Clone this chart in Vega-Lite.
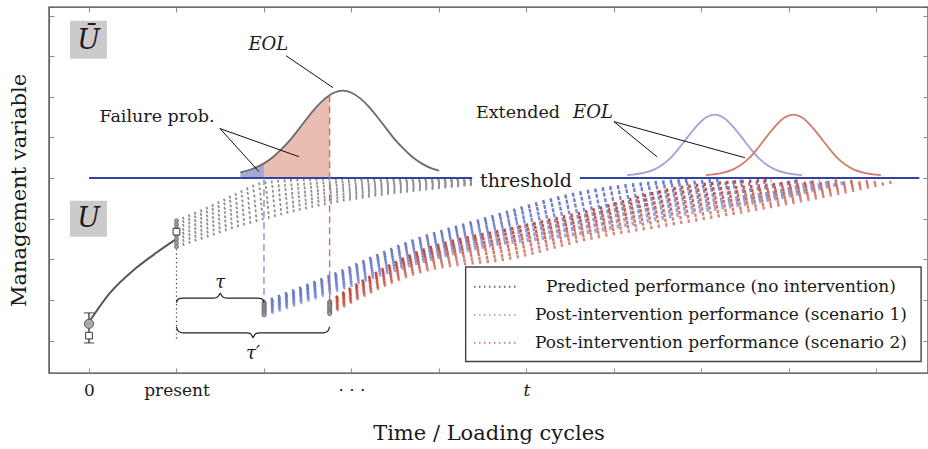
{
  "$schema": "https://vega.github.io/schema/vega-lite/v6.json",
  "width": 879,
  "height": 366,
  "autosize": {"type": "none"},
  "padding": {"left": 49, "top": 7, "right": 0, "bottom": 76},
  "background": "white",
  "config": {
    "view": {"stroke": "#3c3c3c", "strokeWidth": 1.4},
    "font": "DejaVu Serif",
    "axis": {"labelFont": "DejaVu Serif", "titleFont": "DejaVu Serif", "titleFontWeight": "normal", "grid": false, "domain": false}
  },
  "datasets": {
    "boxes": [
      {"id": "Ubar", "x": -0.217, "x2": 0.206, "y": 7.874, "y2": 6.938},
      {"id": "U", "x": -0.217, "x2": 0.206, "y": 3.441, "y2": 2.554}
    ],
    "pdf": [
      {"c": "eol", "x": 1.73, "y": 4.14}, {"c": "eol", "x": 1.85, "y": 4.21}, {"c": "eol", "x": 2.0, "y": 4.36},
      {"c": "eol", "x": 2.1, "y": 4.51}, {"c": "eol", "x": 2.2, "y": 4.71}, {"c": "eol", "x": 2.3, "y": 4.94},
      {"c": "eol", "x": 2.4, "y": 5.21}, {"c": "eol", "x": 2.5, "y": 5.49}, {"c": "eol", "x": 2.6, "y": 5.75},
      {"c": "eol", "x": 2.7, "y": 5.96}, {"c": "eol", "x": 2.75, "y": 6.04}, {"c": "eol", "x": 2.8, "y": 6.1},
      {"c": "eol", "x": 2.9, "y": 6.15}, {"c": "eol", "x": 3.0, "y": 6.1}, {"c": "eol", "x": 3.1, "y": 5.96},
      {"c": "eol", "x": 3.2, "y": 5.75}, {"c": "eol", "x": 3.3, "y": 5.49}, {"c": "eol", "x": 3.4, "y": 5.21},
      {"c": "eol", "x": 3.5, "y": 4.94}, {"c": "eol", "x": 3.6, "y": 4.71}, {"c": "eol", "x": 3.7, "y": 4.51},
      {"c": "eol", "x": 3.8, "y": 4.36}, {"c": "eol", "x": 3.9, "y": 4.25}, {"c": "eol", "x": 4.0, "y": 4.18},
      {"c": "ext1", "x": 6.15, "y": 4.07}, {"c": "ext1", "x": 6.35, "y": 4.13}, {"c": "ext1", "x": 6.45, "y": 4.2},
      {"c": "ext1", "x": 6.55, "y": 4.32}, {"c": "ext1", "x": 6.65, "y": 4.5}, {"c": "ext1", "x": 6.75, "y": 4.75},
      {"c": "ext1", "x": 6.85, "y": 5.03}, {"c": "ext1", "x": 6.95, "y": 5.29}, {"c": "ext1", "x": 7.05, "y": 5.49},
      {"c": "ext1", "x": 7.15, "y": 5.56}, {"c": "ext1", "x": 7.25, "y": 5.49}, {"c": "ext1", "x": 7.35, "y": 5.29},
      {"c": "ext1", "x": 7.45, "y": 5.03}, {"c": "ext1", "x": 7.55, "y": 4.75}, {"c": "ext1", "x": 7.65, "y": 4.5},
      {"c": "ext1", "x": 7.75, "y": 4.32}, {"c": "ext1", "x": 7.85, "y": 4.2}, {"c": "ext1", "x": 7.95, "y": 4.13},
      {"c": "ext1", "x": 8.15, "y": 4.07},
      {"c": "ext2", "x": 7.05, "y": 4.07}, {"c": "ext2", "x": 7.25, "y": 4.13}, {"c": "ext2", "x": 7.35, "y": 4.2},
      {"c": "ext2", "x": 7.45, "y": 4.32}, {"c": "ext2", "x": 7.55, "y": 4.5}, {"c": "ext2", "x": 7.65, "y": 4.75},
      {"c": "ext2", "x": 7.75, "y": 5.03}, {"c": "ext2", "x": 7.85, "y": 5.29}, {"c": "ext2", "x": 7.95, "y": 5.49},
      {"c": "ext2", "x": 8.05, "y": 5.56}, {"c": "ext2", "x": 8.15, "y": 5.49}, {"c": "ext2", "x": 8.25, "y": 5.29},
      {"c": "ext2", "x": 8.35, "y": 5.03}, {"c": "ext2", "x": 8.45, "y": 4.75}, {"c": "ext2", "x": 8.55, "y": 4.5},
      {"c": "ext2", "x": 8.65, "y": 4.32}, {"c": "ext2", "x": 8.75, "y": 4.2}, {"c": "ext2", "x": 8.85, "y": 4.13},
      {"c": "ext2", "x": 9.05, "y": 4.07}
    ],
    "bands": [
      {"s": "g", "m": 0, "x": 1.0, "y": 2.95}, {"s": "g", "m": 0, "x": 1.33, "y": 3.24}, {"s": "g", "m": 0, "x": 1.67, "y": 3.59}, {"s": "g", "m": 0, "x": 2.0, "y": 3.88}, {"s": "g", "m": 0, "x": 2.53, "y": 3.96}, {"s": "g", "m": 0, "x": 3.1, "y": 3.98}, {"s": "g", "m": 0, "x": 3.78, "y": 3.98}, {"s": "g", "m": 0, "x": 4.38, "y": 3.98},
      {"s": "g", "m": 1, "x": 1.0, "y": 2.86}, {"s": "g", "m": 1, "x": 1.33, "y": 3.15}, {"s": "g", "m": 1, "x": 1.67, "y": 3.48}, {"s": "g", "m": 1, "x": 2.0, "y": 3.76}, {"s": "g", "m": 1, "x": 2.53, "y": 3.86}, {"s": "g", "m": 1, "x": 3.1, "y": 3.92}, {"s": "g", "m": 1, "x": 3.78, "y": 3.94}, {"s": "g", "m": 1, "x": 4.38, "y": 3.96},
      {"s": "g", "m": 2, "x": 1.0, "y": 2.77}, {"s": "g", "m": 2, "x": 1.33, "y": 3.05}, {"s": "g", "m": 2, "x": 1.67, "y": 3.36}, {"s": "g", "m": 2, "x": 2.0, "y": 3.63}, {"s": "g", "m": 2, "x": 2.53, "y": 3.77}, {"s": "g", "m": 2, "x": 3.1, "y": 3.85}, {"s": "g", "m": 2, "x": 3.78, "y": 3.91}, {"s": "g", "m": 2, "x": 4.38, "y": 3.94},
      {"s": "g", "m": 3, "x": 1.0, "y": 2.67}, {"s": "g", "m": 3, "x": 1.33, "y": 2.95}, {"s": "g", "m": 3, "x": 1.67, "y": 3.25}, {"s": "g", "m": 3, "x": 2.0, "y": 3.5}, {"s": "g", "m": 3, "x": 2.53, "y": 3.67}, {"s": "g", "m": 3, "x": 3.1, "y": 3.78}, {"s": "g", "m": 3, "x": 3.78, "y": 3.87}, {"s": "g", "m": 3, "x": 4.38, "y": 3.92},
      {"s": "g", "m": 4, "x": 1.0, "y": 2.58}, {"s": "g", "m": 4, "x": 1.33, "y": 2.85}, {"s": "g", "m": 4, "x": 1.67, "y": 3.14}, {"s": "g", "m": 4, "x": 2.0, "y": 3.38}, {"s": "g", "m": 4, "x": 2.53, "y": 3.58}, {"s": "g", "m": 4, "x": 3.1, "y": 3.72}, {"s": "g", "m": 4, "x": 3.78, "y": 3.83}, {"s": "g", "m": 4, "x": 4.38, "y": 3.9},
      {"s": "g", "m": 5, "x": 1.0, "y": 2.49}, {"s": "g", "m": 5, "x": 1.33, "y": 2.75}, {"s": "g", "m": 5, "x": 1.67, "y": 3.03}, {"s": "g", "m": 5, "x": 2.0, "y": 3.25}, {"s": "g", "m": 5, "x": 2.53, "y": 3.48}, {"s": "g", "m": 5, "x": 3.1, "y": 3.65}, {"s": "g", "m": 5, "x": 3.78, "y": 3.79}, {"s": "g", "m": 5, "x": 4.38, "y": 3.88},
      {"s": "g", "m": 6, "x": 1.0, "y": 2.4}, {"s": "g", "m": 6, "x": 1.33, "y": 2.65}, {"s": "g", "m": 6, "x": 1.67, "y": 2.91}, {"s": "g", "m": 6, "x": 2.0, "y": 3.12}, {"s": "g", "m": 6, "x": 2.53, "y": 3.39}, {"s": "g", "m": 6, "x": 3.1, "y": 3.58}, {"s": "g", "m": 6, "x": 3.78, "y": 3.75}, {"s": "g", "m": 6, "x": 4.38, "y": 3.86},
      {"s": "g", "m": 7, "x": 1.0, "y": 2.31}, {"s": "g", "m": 7, "x": 1.33, "y": 2.55}, {"s": "g", "m": 7, "x": 1.67, "y": 2.8}, {"s": "g", "m": 7, "x": 2.0, "y": 3.0}, {"s": "g", "m": 7, "x": 2.53, "y": 3.29}, {"s": "g", "m": 7, "x": 3.1, "y": 3.52}, {"s": "g", "m": 7, "x": 3.78, "y": 3.71}, {"s": "g", "m": 7, "x": 4.38, "y": 3.84},
      {"s": "b", "m": 0, "x": 2.0, "y": 0.93}, {"s": "b", "m": 0, "x": 2.75, "y": 1.57}, {"s": "b", "m": 0, "x": 3.75, "y": 2.48}, {"s": "b", "m": 0, "x": 4.5, "y": 2.97}, {"s": "b", "m": 0, "x": 5.65, "y": 3.64}, {"s": "b", "m": 0, "x": 6.9, "y": 3.95},
      {"s": "b", "m": 1, "x": 2.0, "y": 0.89}, {"s": "b", "m": 1, "x": 2.75, "y": 1.51}, {"s": "b", "m": 1, "x": 3.75, "y": 2.4}, {"s": "b", "m": 1, "x": 4.5, "y": 2.88}, {"s": "b", "m": 1, "x": 5.65, "y": 3.5}, {"s": "b", "m": 1, "x": 6.75, "y": 3.84}, {"s": "b", "m": 1, "x": 7.2, "y": 3.95},
      {"s": "b", "m": 2, "x": 2.0, "y": 0.84}, {"s": "b", "m": 2, "x": 2.75, "y": 1.46}, {"s": "b", "m": 2, "x": 3.75, "y": 2.32}, {"s": "b", "m": 2, "x": 4.5, "y": 2.78}, {"s": "b", "m": 2, "x": 5.65, "y": 3.36}, {"s": "b", "m": 2, "x": 6.75, "y": 3.71}, {"s": "b", "m": 2, "x": 7.5, "y": 3.93},
      {"s": "b", "m": 3, "x": 2.0, "y": 0.8}, {"s": "b", "m": 3, "x": 2.75, "y": 1.4}, {"s": "b", "m": 3, "x": 3.75, "y": 2.24}, {"s": "b", "m": 3, "x": 4.5, "y": 2.69}, {"s": "b", "m": 3, "x": 5.65, "y": 3.22}, {"s": "b", "m": 3, "x": 6.75, "y": 3.59}, {"s": "b", "m": 3, "x": 7.8, "y": 3.93},
      {"s": "b", "m": 4, "x": 2.0, "y": 0.76}, {"s": "b", "m": 4, "x": 2.75, "y": 1.35}, {"s": "b", "m": 4, "x": 3.75, "y": 2.15}, {"s": "b", "m": 4, "x": 4.5, "y": 2.59}, {"s": "b", "m": 4, "x": 5.65, "y": 3.07}, {"s": "b", "m": 4, "x": 6.75, "y": 3.47}, {"s": "b", "m": 4, "x": 7.6, "y": 3.72}, {"s": "b", "m": 4, "x": 8.1, "y": 3.92},
      {"s": "b", "m": 5, "x": 2.0, "y": 0.72}, {"s": "b", "m": 5, "x": 2.75, "y": 1.29}, {"s": "b", "m": 5, "x": 3.75, "y": 2.07}, {"s": "b", "m": 5, "x": 4.5, "y": 2.5}, {"s": "b", "m": 5, "x": 5.65, "y": 2.93}, {"s": "b", "m": 5, "x": 6.75, "y": 3.35}, {"s": "b", "m": 5, "x": 7.9, "y": 3.68}, {"s": "b", "m": 5, "x": 8.3, "y": 3.91},
      {"s": "b", "m": 6, "x": 2.0, "y": 0.67}, {"s": "b", "m": 6, "x": 2.75, "y": 1.24}, {"s": "b", "m": 6, "x": 3.75, "y": 1.99}, {"s": "b", "m": 6, "x": 4.5, "y": 2.4}, {"s": "b", "m": 6, "x": 5.65, "y": 2.79}, {"s": "b", "m": 6, "x": 6.75, "y": 3.22}, {"s": "b", "m": 6, "x": 7.9, "y": 3.6}, {"s": "b", "m": 6, "x": 8.48, "y": 3.9},
      {"s": "b", "m": 7, "x": 2.0, "y": 0.63}, {"s": "b", "m": 7, "x": 2.75, "y": 1.18}, {"s": "b", "m": 7, "x": 3.75, "y": 1.91}, {"s": "b", "m": 7, "x": 4.5, "y": 2.31}, {"s": "b", "m": 7, "x": 5.65, "y": 2.65}, {"s": "b", "m": 7, "x": 6.75, "y": 3.1}, {"s": "b", "m": 7, "x": 7.9, "y": 3.52}, {"s": "b", "m": 7, "x": 8.62, "y": 3.88},
      {"s": "r", "m": 0, "x": 2.75, "y": 0.95}, {"s": "r", "m": 0, "x": 3.75, "y": 2.16}, {"s": "r", "m": 0, "x": 4.89, "y": 2.78}, {"s": "r", "m": 0, "x": 5.65, "y": 3.15}, {"s": "r", "m": 0, "x": 6.75, "y": 3.76}, {"s": "r", "m": 0, "x": 7.75, "y": 3.94},
      {"s": "r", "m": 1, "x": 2.75, "y": 0.91}, {"s": "r", "m": 1, "x": 3.75, "y": 2.09}, {"s": "r", "m": 1, "x": 4.89, "y": 2.68}, {"s": "r", "m": 1, "x": 5.65, "y": 3.05}, {"s": "r", "m": 1, "x": 6.75, "y": 3.64}, {"s": "r", "m": 1, "x": 7.9, "y": 3.86}, {"s": "r", "m": 1, "x": 8.1, "y": 3.93},
      {"s": "r", "m": 2, "x": 2.75, "y": 0.87}, {"s": "r", "m": 2, "x": 3.75, "y": 2.02}, {"s": "r", "m": 2, "x": 4.89, "y": 2.57}, {"s": "r", "m": 2, "x": 5.65, "y": 2.96}, {"s": "r", "m": 2, "x": 6.75, "y": 3.51}, {"s": "r", "m": 2, "x": 7.9, "y": 3.77}, {"s": "r", "m": 2, "x": 8.35, "y": 3.93},
      {"s": "r", "m": 3, "x": 2.75, "y": 0.83}, {"s": "r", "m": 3, "x": 3.75, "y": 1.95}, {"s": "r", "m": 3, "x": 4.89, "y": 2.47}, {"s": "r", "m": 3, "x": 5.65, "y": 2.86}, {"s": "r", "m": 3, "x": 6.75, "y": 3.39}, {"s": "r", "m": 3, "x": 7.9, "y": 3.69}, {"s": "r", "m": 3, "x": 8.55, "y": 3.93},
      {"s": "r", "m": 4, "x": 2.75, "y": 0.78}, {"s": "r", "m": 4, "x": 3.75, "y": 1.88}, {"s": "r", "m": 4, "x": 4.89, "y": 2.37}, {"s": "r", "m": 4, "x": 5.65, "y": 2.77}, {"s": "r", "m": 4, "x": 6.75, "y": 3.27}, {"s": "r", "m": 4, "x": 7.9, "y": 3.6}, {"s": "r", "m": 4, "x": 8.75, "y": 3.93},
      {"s": "r", "m": 5, "x": 2.75, "y": 0.74}, {"s": "r", "m": 5, "x": 3.75, "y": 1.81}, {"s": "r", "m": 5, "x": 4.89, "y": 2.27}, {"s": "r", "m": 5, "x": 5.65, "y": 2.67}, {"s": "r", "m": 5, "x": 6.75, "y": 3.15}, {"s": "r", "m": 5, "x": 7.9, "y": 3.51}, {"s": "r", "m": 5, "x": 8.9, "y": 3.92},
      {"s": "r", "m": 6, "x": 2.75, "y": 0.7}, {"s": "r", "m": 6, "x": 3.75, "y": 1.74}, {"s": "r", "m": 6, "x": 4.89, "y": 2.16}, {"s": "r", "m": 6, "x": 5.65, "y": 2.58}, {"s": "r", "m": 6, "x": 6.75, "y": 3.02}, {"s": "r", "m": 6, "x": 7.9, "y": 3.42}, {"s": "r", "m": 6, "x": 9.05, "y": 3.92},
      {"s": "r", "m": 7, "x": 2.75, "y": 0.66}, {"s": "r", "m": 7, "x": 3.75, "y": 1.67}, {"s": "r", "m": 7, "x": 4.89, "y": 2.06}, {"s": "r", "m": 7, "x": 5.65, "y": 2.48}, {"s": "r", "m": 7, "x": 6.75, "y": 2.9}, {"s": "r", "m": 7, "x": 7.9, "y": 3.34}, {"s": "r", "m": 7, "x": 9.2, "y": 3.91}
    ],
    "threshold": [
      {"x": 0, "x2": 4.38, "y": 4.0},
      {"x": 5.61, "x2": 9.49, "y": 4.0}
    ],
    "guides": [
      {"id": "present", "x": 1.0, "y": 2.45, "y2": 0.0},
      {"id": "tau", "x": 2.0, "y": 4.0, "y2": 0.95},
      {"id": "taup", "x": 2.75, "y": 6.04, "y2": 0.95}
    ],
    "history": [
      {"x": 0.0, "y": 0.45}, {"x": 0.24, "y": 1.17}, {"x": 0.53, "y": 1.77}, {"x": 0.77, "y": 2.16}, {"x": 1.0, "y": 2.5}
    ],
    "obs": [
      {"x": 0.0, "lo": -0.06, "hi": 0.68, "mean": 0.41, "meas": 0.12}
    ],
    "present": [
      {"x": 1.0, "y": 2.68}
    ],
    "braces": [
      {"id": "tau", "x": 1.0, "y": 0.93}, {"id": "tau", "x": 1.01, "y": 0.99}, {"id": "tau", "x": 1.03, "y": 1.03}, {"id": "tau", "x": 1.07, "y": 1.044}, {"id": "tau", "x": 1.42, "y": 1.044}, {"id": "tau", "x": 1.46, "y": 1.06}, {"id": "tau", "x": 1.485, "y": 1.11}, {"id": "tau", "x": 1.5, "y": 1.16}, {"id": "tau", "x": 1.515, "y": 1.11}, {"id": "tau", "x": 1.54, "y": 1.06}, {"id": "tau", "x": 1.58, "y": 1.044}, {"id": "tau", "x": 1.93, "y": 1.044}, {"id": "tau", "x": 1.97, "y": 1.03}, {"id": "tau", "x": 1.99, "y": 0.99}, {"id": "tau", "x": 2.0, "y": 0.93},
      {"id": "taup", "x": 1.0, "y": 0.335}, {"id": "taup", "x": 1.01, "y": 0.27}, {"id": "taup", "x": 1.03, "y": 0.215}, {"id": "taup", "x": 1.07, "y": 0.19}, {"id": "taup", "x": 1.8, "y": 0.19}, {"id": "taup", "x": 1.84, "y": 0.175}, {"id": "taup", "x": 1.862, "y": 0.12}, {"id": "taup", "x": 1.875, "y": 0.07}, {"id": "taup", "x": 1.888, "y": 0.12}, {"id": "taup", "x": 1.91, "y": 0.175}, {"id": "taup", "x": 1.95, "y": 0.19}, {"id": "taup", "x": 2.68, "y": 0.19}, {"id": "taup", "x": 2.72, "y": 0.215}, {"id": "taup", "x": 2.74, "y": 0.27}, {"id": "taup", "x": 2.75, "y": 0.335}
    ],
    "leaders": [
      {"id": "eol", "x": 2.251, "y": 7.012, "x2": 2.789, "y2": 6.224},
      {"id": "fp1", "x": 1.497, "y": 5.217, "x2": 1.943, "y2": 4.155},
      {"id": "fp2", "x": 1.497, "y": 5.217, "x2": 2.4, "y2": 4.525},
      {"id": "ext1", "x": 6.0, "y": 5.387, "x2": 6.491, "y2": 4.525},
      {"id": "ext2", "x": 6.0, "y": 5.387, "x2": 7.497, "y2": 4.5}
    ],
    "notes": [
      {"text": "Failure prob.", "x": 0.777, "y": 5.51},
      {"text": "Extended", "x": 4.903, "y": 5.6}
    ],
    "math": [
      {"text": "EOL", "x": 2.05, "y": 7.283},
      {"text": "EOL", "x": 5.76, "y": 5.6},
      {"text": "τ", "x": 1.5, "y": 1.414},
      {"text": "τ′", "x": 1.875, "y": -0.328}
    ],
    "sets": [
      {"text": "Ū", "x": -0.005, "y": 7.38},
      {"text": "U", "x": -0.005, "y": 2.998}
    ],
    "legendbox": [
      {"x": 4.305, "x2": 9.51, "y": 1.808, "y2": -0.517}
    ],
    "legendkeys": [
      {"s": "g", "x": 4.4, "y": 1.323}, {"s": "g", "x": 4.91, "y": 1.323},
      {"s": "b", "x": 4.4, "y": 0.633}, {"s": "b", "x": 4.91, "y": 0.633},
      {"s": "r", "x": 4.4, "y": -0.057}, {"s": "r", "x": 4.91, "y": -0.057}
    ],
    "legendtext": [
      {"text": "Predicted performance (no intervention)", "x": 7.223, "y": 1.323},
      {"text": "Post-intervention performance (scenario 1)", "x": 7.223, "y": 0.633},
      {"text": "Post-intervention performance (scenario 2)", "x": 7.223, "y": -0.057}
    ],
    "frame": [
      {"x": 0, "y": 0}
    ]
  },
  "layer": [
    {
      "layer": [
        {
          "data": {"name": "boxes"},
          "mark": {"type": "rect", "color": "#cbcbcb"},
          "encoding": {
            "x": {
              "field": "x", "type": "quantitative",
              "scale": {"domain": [-0.457, 9.589], "nice": false, "zero": false},
              "axis": {
                "orient": "bottom", "values": [0, 1, 2, 3, 4, 5, 6, 7, 8, 9],
                "tickSize": -5, "tickColor": "#8c8c8c", "tickWidth": 1,
                "labelExpr": "datum.value === 0 ? '0' : datum.value === 1 ? 'present' : datum.value === 3 ? '· · ·' : datum.value === 5 ? 't' : ''",
                "labelFont": "DejaVu Serif", "labelFontSize": 17, "labelColor": "#1a1a1a", "labelPadding": 14,
                "labelFontStyle": {"condition": {"test": "datum.value === 5", "value": "italic"}, "value": "normal"},
                "labelOverlap": false, "labelBound": false, "labelFlush": false,
                "title": "Time / Loading cycles", "titleFont": "DejaVu Serif", "titleFontSize": 21, "titleColor": "#1a1a1a", "titlePadding": 24
              }
            },
            "x2": {"field": "x2"},
            "y": {
              "field": "y", "type": "quantitative",
              "scale": {"domain": [-0.8, 8.21], "nice": false, "zero": false},
              "axis": {
                "orient": "left", "values": [0, 1, 2, 3, 4, 5, 6, 7, 8],
                "tickSize": -5, "tickColor": "#8c8c8c", "tickWidth": 1, "labels": false,
                "title": "Management variable", "titleFont": "DejaVu Serif", "titleFontSize": 21, "titleColor": "#1a1a1a", "titlePadding": 19
              }
            },
            "y2": {"field": "y2"}
          }
        },
        {
          "data": {"name": "pdf"},
          "transform": [{"filter": "datum.c === 'eol' && datum.x <= 2.0"}],
          "mark": {"type": "area", "color": "#a6a9d8", "interpolate": "monotone"},
          "encoding": {
            "x": {"field": "x", "type": "quantitative"},
            "y": {"field": "y", "type": "quantitative"},
            "y2": {"datum": 4.0}
          }
        },
        {
          "data": {"name": "pdf"},
          "transform": [{"filter": "datum.c === 'eol' && datum.x >= 2.0 && datum.x <= 2.75"}],
          "mark": {"type": "area", "color": "#e9bdb2", "interpolate": "monotone"},
          "encoding": {
            "x": {"field": "x", "type": "quantitative"},
            "y": {"field": "y", "type": "quantitative"},
            "y2": {"datum": 4.0}
          }
        },
        {
          "data": {"name": "pdf"},
          "mark": {"type": "line", "interpolate": "monotone", "strokeWidth": 1.8},
          "encoding": {
            "x": {"field": "x", "type": "quantitative"},
            "y": {"field": "y", "type": "quantitative"},
            "detail": {"field": "c"},
            "color": {"field": "c", "type": "nominal", "scale": {"domain": ["eol", "ext1", "ext2"], "range": ["#6a6a6a", "#9ea4d8", "#d47c6a"]}, "legend": null}
          }
        },
        {
          "data": {"name": "bands"},
          "transform": [{"filter": "datum.s === 'g'"}],
          "mark": {"type": "line", "interpolate": "monotone", "color": "#909090", "strokeWidth": 2.8, "strokeDash": [1.8, 4.6]},
          "encoding": {
            "x": {"field": "x", "type": "quantitative"},
            "y": {"field": "y", "type": "quantitative"},
            "detail": {"field": "m"}
          }
        },
        {
          "data": {"name": "bands"},
          "transform": [{"filter": "datum.s === 'b'"}],
          "mark": {"type": "line", "interpolate": "monotone", "color": "#6a7ac8", "strokeWidth": 4, "strokeDash": [2.4, 5.2]},
          "encoding": {
            "x": {"field": "x", "type": "quantitative"},
            "y": {"field": "y", "type": "quantitative"},
            "detail": {"field": "m"},
            "opacity": {"field": "m", "type": "quantitative", "scale": {"domain": [0, 7], "range": [1, 0.65]}, "legend": null}
          }
        },
        {
          "data": {"name": "bands"},
          "transform": [{"filter": "datum.s === 'r'"}],
          "mark": {"type": "line", "interpolate": "monotone", "color": "#c4493a", "strokeWidth": 3.4, "strokeDash": [2.4, 5.2]},
          "encoding": {
            "x": {"field": "x", "type": "quantitative"},
            "y": {"field": "y", "type": "quantitative"},
            "detail": {"field": "m"},
            "opacity": {"field": "m", "type": "quantitative", "scale": {"domain": [0, 7], "range": [1, 0.3]}, "legend": null}
          }
        },
        {
          "data": {"name": "threshold"},
          "mark": {"type": "rule", "color": "#3244a3", "strokeWidth": 2},
          "encoding": {
            "x": {"field": "x", "type": "quantitative"},
            "x2": {"field": "x2"},
            "y": {"field": "y", "type": "quantitative"}
          }
        },
        {
          "data": {"name": "guides"},
          "transform": [{"filter": "datum.id === 'present'"}],
          "mark": {"type": "rule", "color": "#333333", "strokeWidth": 1.2, "strokeDash": [1.2, 3]},
          "encoding": {
            "x": {"field": "x", "type": "quantitative"},
            "y": {"field": "y", "type": "quantitative"},
            "y2": {"field": "y2"}
          }
        },
        {
          "data": {"name": "guides"},
          "transform": [{"filter": "datum.id === 'tau'"}],
          "mark": {"type": "rule", "color": "#8a93d4", "strokeWidth": 1.4, "strokeDash": [7, 4]},
          "encoding": {
            "x": {"field": "x", "type": "quantitative"},
            "y": {"field": "y", "type": "quantitative"},
            "y2": {"field": "y2"}
          }
        },
        {
          "data": {"name": "guides"},
          "transform": [{"filter": "datum.id === 'taup'"}],
          "mark": {"type": "rule", "color": "#d0705e", "strokeWidth": 1.4, "strokeDash": [7, 4]},
          "encoding": {
            "x": {"field": "x", "type": "quantitative"},
            "y": {"field": "y", "type": "quantitative"},
            "y2": {"field": "y2"}
          }
        },
        {
          "data": {"name": "history"},
          "mark": {"type": "line", "interpolate": "monotone", "color": "#555555", "strokeWidth": 2},
          "encoding": {
            "x": {"field": "x", "type": "quantitative"},
            "y": {"field": "y", "type": "quantitative"}
          }
        },
        {
          "data": {"name": "obs"},
          "mark": {"type": "rule", "color": "#333333", "strokeWidth": 1.3},
          "encoding": {
            "x": {"field": "x", "type": "quantitative"},
            "y": {"field": "lo", "type": "quantitative"},
            "y2": {"field": "hi"}
          }
        },
        {
          "data": {"name": "obs"},
          "mark": {"type": "tick", "orient": "horizontal", "color": "#333333", "thickness": 1.3, "size": 10},
          "encoding": {
            "x": {"field": "x", "type": "quantitative"},
            "y": {"field": "lo", "type": "quantitative"}
          }
        },
        {
          "data": {"name": "obs"},
          "mark": {"type": "tick", "orient": "horizontal", "color": "#333333", "thickness": 1.3, "size": 10},
          "encoding": {
            "x": {"field": "x", "type": "quantitative"},
            "y": {"field": "hi", "type": "quantitative"}
          }
        },
        {
          "data": {"name": "obs"},
          "mark": {"type": "point", "shape": "circle", "filled": true, "fill": "#a9a9a9", "stroke": "#5a5a5a", "strokeWidth": 1, "size": 85, "opacity": 1},
          "encoding": {
            "x": {"field": "x", "type": "quantitative"},
            "y": {"field": "mean", "type": "quantitative"}
          }
        },
        {
          "data": {"name": "obs"},
          "mark": {"type": "point", "shape": "square", "filled": true, "fill": "white", "stroke": "#333333", "strokeWidth": 1, "size": 45, "opacity": 1},
          "encoding": {
            "x": {"field": "x", "type": "quantitative"},
            "y": {"field": "meas", "type": "quantitative"}
          }
        },
        {
          "data": {"name": "bands"},
          "transform": [{"filter": "(datum.s === 'g' && datum.x === 1) || (datum.s === 'b' && datum.x === 2) || (datum.s === 'r' && datum.x === 2.75)"}],
          "mark": {"type": "point", "shape": "circle", "filled": true, "fill": "#a0a0a0", "stroke": "#6a6a6a", "strokeWidth": 0.8, "size": 16, "opacity": 1},
          "encoding": {
            "x": {"field": "x", "type": "quantitative"},
            "y": {"field": "y", "type": "quantitative"}
          }
        },
        {
          "data": {"name": "present"},
          "mark": {"type": "point", "shape": "square", "filled": true, "fill": "white", "stroke": "#333333", "strokeWidth": 1, "size": 45, "opacity": 1},
          "encoding": {
            "x": {"field": "x", "type": "quantitative"},
            "y": {"field": "y", "type": "quantitative"}
          }
        },
        {
          "data": {"name": "braces"},
          "mark": {"type": "line", "interpolate": "monotone", "color": "#222222", "strokeWidth": 1.2},
          "encoding": {
            "x": {"field": "x", "type": "quantitative"},
            "y": {"field": "y", "type": "quantitative"},
            "detail": {"field": "id"}
          }
        },
        {
          "data": {"name": "leaders"},
          "mark": {"type": "rule", "color": "#111111", "strokeWidth": 1},
          "encoding": {
            "x": {"field": "x", "type": "quantitative"},
            "x2": {"field": "x2"},
            "y": {"field": "y", "type": "quantitative"},
            "y2": {"field": "y2"}
          }
        },
        {
          "data": {"name": "notes"},
          "mark": {"type": "text", "font": "DejaVu Serif", "fontSize": 17.5, "color": "#1a1a1a", "align": "center", "baseline": "middle"},
          "encoding": {
            "x": {"field": "x", "type": "quantitative"},
            "y": {"field": "y", "type": "quantitative"},
            "text": {"field": "text"}
          }
        },
        {
          "data": {"name": "math"},
          "mark": {"type": "text", "font": "DejaVu Serif", "fontStyle": "italic", "fontSize": 18, "color": "#1a1a1a", "align": "center", "baseline": "middle"},
          "encoding": {
            "x": {"field": "x", "type": "quantitative"},
            "y": {"field": "y", "type": "quantitative"},
            "text": {"field": "text"}
          }
        },
        {
          "data": {"name": "sets"},
          "mark": {"type": "text", "font": "DejaVu Serif", "fontStyle": "italic", "fontSize": 27, "color": "#1a1a1a", "align": "center", "baseline": "middle"},
          "encoding": {
            "x": {"field": "x", "type": "quantitative"},
            "y": {"field": "y", "type": "quantitative"},
            "text": {"field": "text"}
          }
        },
        {
          "data": {"values": [{"text": "threshold", "x": 4.994, "y": 3.93}]},
          "mark": {"type": "text", "font": "DejaVu Serif", "fontSize": 19, "color": "#1a1a1a", "align": "center", "baseline": "middle"},
          "encoding": {
            "x": {"field": "x", "type": "quantitative"},
            "y": {"field": "y", "type": "quantitative"},
            "text": {"field": "text"}
          }
        },
        {
          "data": {"name": "legendbox"},
          "mark": {"type": "rect", "fill": "white", "stroke": "#444444", "strokeWidth": 1.4},
          "encoding": {
            "x": {"field": "x", "type": "quantitative"},
            "x2": {"field": "x2"},
            "y": {"field": "y", "type": "quantitative"},
            "y2": {"field": "y2"}
          }
        },
        {
          "data": {"name": "legendkeys"},
          "mark": {"type": "line", "strokeWidth": 1.8, "strokeDash": [1.5, 3.5]},
          "encoding": {
            "x": {"field": "x", "type": "quantitative"},
            "y": {"field": "y", "type": "quantitative"},
            "detail": {"field": "s"},
            "color": {"field": "s", "type": "nominal", "scale": {"domain": ["g", "b", "r"], "range": ["#999999", "#6f7fcb", "#c4493a"]}, "legend": null}
          }
        },
        {
          "data": {"name": "legendtext"},
          "mark": {"type": "text", "font": "DejaVu Serif", "fontSize": 17, "color": "#1a1a1a", "align": "center", "baseline": "middle"},
          "encoding": {
            "x": {"field": "x", "type": "quantitative"},
            "y": {"field": "y", "type": "quantitative"},
            "text": {"field": "text"}
          }
        }
      ]
    },
    {
      "data": {"name": "frame"},
      "mark": {"type": "point", "opacity": 0},
      "encoding": {
        "x": {
          "field": "x", "type": "quantitative",
          "axis": {"orient": "top", "values": [0, 1, 2, 3, 4, 5, 6, 7, 8, 9], "tickSize": -5, "tickColor": "#8c8c8c", "tickWidth": 1, "labels": false, "title": null}
        },
        "y": {
          "field": "y", "type": "quantitative",
          "axis": {"orient": "right", "values": [0, 1, 2, 3, 4, 5, 6, 7, 8], "tickSize": -5, "tickColor": "#8c8c8c", "tickWidth": 1, "labels": false, "title": null}
        }
      }
    }
  ],
  "resolve": {"axis": {"x": "independent", "y": "independent"}}
}
